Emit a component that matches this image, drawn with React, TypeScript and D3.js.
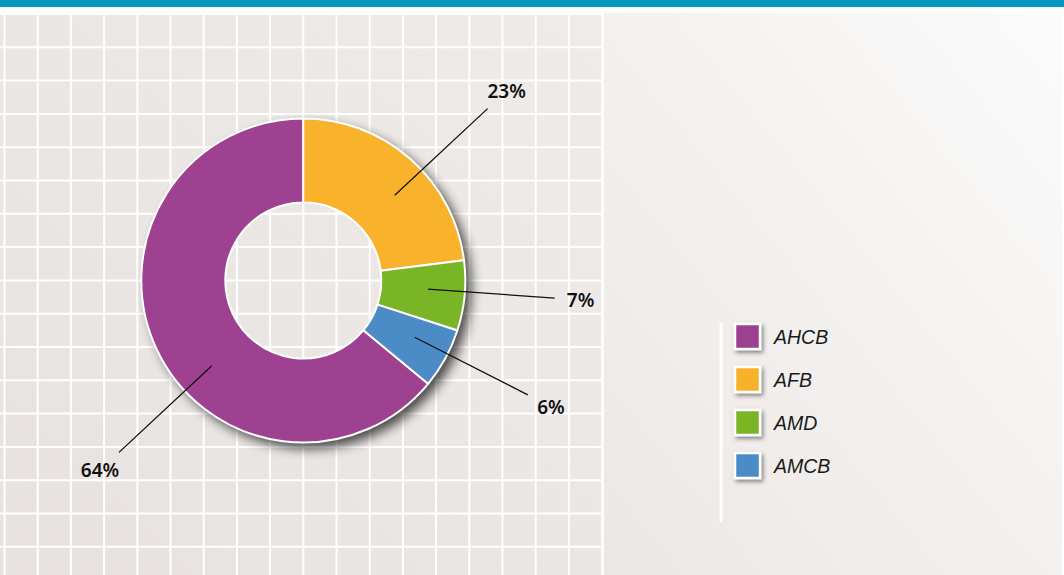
import React from "react";
import * as d3 from "d3";

const categories = ["AHCB", "AFB", "AMD", "AMCB"];
const values = [64, 23, 7, 6];
const colors = ["#9e4190", "#f8b22c", "#7ab527", "#4b8bc6"];
const labelTexts = ["64%", "23%", "7%", "6%"];
// angular nudges (degrees) applied to label rays relative to slice middles
const labelAngleNudge = [-17.8, 5.6, -1.4, -1.8];

const W = 1064;
const H = 575;

export default function App() {
  const cx = 303.3;
  const cy = 280.5;
  const outerR = 162;
  const innerR = 78;

  const total = d3.sum(values);
  const start = -(values[0] / total) * Math.PI * 2;
  const pie = d3
    .pie<number>()
    .sort(null)
    .value((d) => d)
    .startAngle(start)
    .endAngle(start + Math.PI * 2);
  const arcs = pie(values);
  const arcGen = d3.arc<d3.PieArcDatum<number>>().innerRadius(innerR).outerRadius(outerR);

  const gridX = d3.scaleLinear().domain([0, 18]).range([4.5, 602.1]);
  const gridY = d3.scaleLinear().domain([0, 1]).range([14, 47.3]);
  const vIdx = d3.range(0, 19);
  const hIdx = d3.range(0, 17);

  const legendY = d3.scaleBand().domain(categories).range([316, 488]).paddingInner(0);

  const polar = (angle: number, r: number): [number, number] => [
    cx + r * Math.sin(angle),
    cy - r * Math.cos(angle),
  ];

  return (
    <div style={{ position: "fixed", left: 0, top: 0, width: W, height: H }}>
      <svg width={W} height={H} style={{ display: "block" }}>
        <defs>
          <linearGradient id="panelGrad" x1="0" y1="1" x2="1" y2="0">
            <stop offset="0" stopColor="#ebe7e4" />
            <stop offset="1" stopColor="#fbfbfb" />
          </linearGradient>
          <linearGradient id="gridGrad" x1="0" y1="1" x2="1" y2="0">
            <stop offset="0" stopColor="#e7e2df" />
            <stop offset="1" stopColor="#eeebe9" />
          </linearGradient>
          <filter id="blur" x="-30%" y="-30%" width="160%" height="160%">
            <feGaussianBlur stdDeviation="6" />
          </filter>
          <filter id="boxShadow" x="-50%" y="-50%" width="200%" height="200%">
            <feDropShadow dx="2" dy="2.5" stdDeviation="2" floodColor="#000" floodOpacity="0.45" />
          </filter>
          <mask id="holeMask">
            <rect x={0} y={0} width={W} height={H} fill="white" />
            <circle cx={cx} cy={cy} r={innerR} fill="black" />
          </mask>
        </defs>

        <rect x={0} y={0} width={W} height={H} fill="#ffffff" />
        <rect x={0} y={0} width={W} height={7} fill="#0596bf" />

        {/* grid area */}
        <rect x={0} y={13} width={603} height={H - 13} fill="url(#gridGrad)" />
        {vIdx.map((i) => (
          <line key={"v" + i} x1={gridX(i)} x2={gridX(i)} y1={13} y2={H} stroke="#ffffff" strokeWidth={2} />
        ))}
        {hIdx.map((j) => (
          <line key={"h" + j} x1={0} x2={603} y1={gridY(j)} y2={gridY(j)} stroke="#ffffff" strokeWidth={2} />
        ))}

        {/* right panel */}
        <rect x={604} y={13} width={458} height={H - 13} fill="url(#panelGrad)" />

        {/* donut shadow */}
        <g mask="url(#holeMask)">
          <circle cx={cx + 6} cy={cy + 6} r={outerR} fill="#000" opacity={0.7} filter="url(#blur)" />
        </g>

        {/* donut */}
        <g transform={`translate(${cx},${cy})`}>
          {arcs.map((a, i) => (
            <path key={i} d={arcGen(a) || ""} fill={colors[i]} stroke="#ffffff" strokeWidth={2} strokeLinejoin="round" />
          ))}
        </g>

        {/* labels */}
        {arcs.map((a, i) => {
          const mid = (a.startAngle + a.endAngle) / 2 + (labelAngleNudge[i] * Math.PI) / 180;
          const p1 = polar(mid, 125);
          const p2 = polar(mid, 252);
          const p3 = polar(mid, 278);
          return (
            <g key={"l" + i}>
              <line x1={p1[0]} y1={p1[1]} x2={p2[0]} y2={p2[1]} stroke="#111" strokeWidth={1.3} />
              <text
                x={p3[0]}
                y={p3[1]}
                textAnchor="middle"
                dominantBaseline="central"
                fontFamily="'Noto Sans', 'Open Sans', sans-serif"
                fontWeight={600}
                fontSize={19}
                fill="#111"
              >
                {labelTexts[i]}
              </text>
            </g>
          );
        })}

        {/* legend */}
        <line x1={721} x2={721} y1={323} y2={522} stroke="#ffffff" strokeWidth={3} />
        {categories.map((c, i) => {
          const yc = (legendY(c) || 0) + legendY.bandwidth() / 2 - 1;
          return (
            <g key={"lg" + c}>
              <rect
                x={735}
                y={yc - 12.5}
                width={25}
                height={25}
                fill={colors[i]}
                stroke="#ffffff"
                strokeWidth={2.5}
                filter="url(#boxShadow)"
              />
              <text
                x={774}
                y={yc}
                dominantBaseline="central"
                fontFamily="'Liberation Sans', Arial, sans-serif"
                fontStyle="italic"
                fontSize={19.5}
                fill="#1a1a1a"
              >
                {c}
              </text>
            </g>
          );
        })}
      </svg>
    </div>
  );
}
